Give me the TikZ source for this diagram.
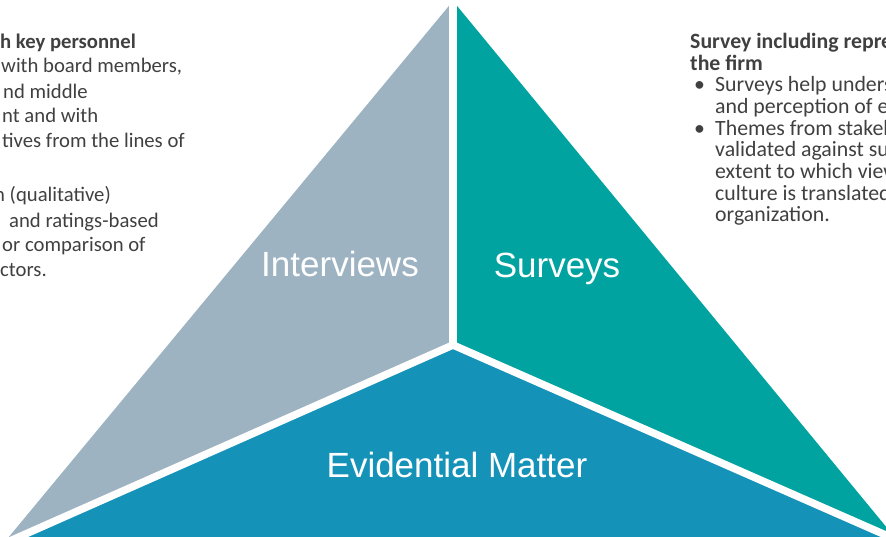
\documentclass[tikz,border=0pt]{standalone}
\usepackage{fontspec}
\setmainfont{Carlito}
\newfontfamily\labelfont{Liberation Sans}

\definecolor{intgray}{HTML}{9DB3C2}
\definecolor{survteal}{HTML}{00A3A0}
\definecolor{evidblue}{HTML}{1592B8}
\definecolor{bodytext}{HTML}{404040}

\tikzset{
  piecelabel/.style={text=white, font=\labelfont\fontsize{35}{40}\selectfont, inner sep=0pt, anchor=base},
  % base of a multi-line node is its last line
  sidetext/.style={text=bodytext, align=left, inner sep=0pt, anchor=base west}
}

\begin{document}
\begin{tikzpicture}[x=1pt,y=-1pt]
  \useasboundingbox (0,0) rectangle (886,537);
  \clip (0,0) rectangle (886,537);

  % corners of the big triangle and the point where the parts meet
  \coordinate (top) at (453,1);
  \coordinate (bl) at (3,544);
  \coordinate (br) at (897,540);
  \coordinate (mid) at (453,345);

  \fill[intgray] (top) -- (mid) -- (bl) -- cycle;
  \fill[survteal] (top) -- (br) -- (mid) -- cycle;
  \fill[evidblue] (bl) -- (mid) -- (br) -- cycle;

  % white gaps between the parts
  \foreach \c in {top,bl,br}{
    \draw[white, line width=7.5pt, line cap=round] (mid) -- (\c);
  }

  \node[piecelabel] (interviews) at (340,277) {Interviews};
  \node[piecelabel] (surveys) at (557,278) {Surveys};
  \node[piecelabel] (evidence) at (457,477) {Evidential Matter};

  %\draw[red] (0,0) grid[step=50] (886,537);

  \node[sidetext, font=\fontsize{20.7}{25}\selectfont] (interviewnotes) at (0,277)
    {\textbf{h key personnel}\\
     \hspace*{1pt}with board members,\\
     \hspace*{3pt}nd middle\\
     \hspace*{2pt}nt and with\\
     \hspace*{2pt}tives from the lines of\\[29pt]
     \hspace*{-6pt}n (qualitative)\\
     \hspace*{9pt}and ratings-based\\
     \hspace*{2pt}or comparison of\\
     ctors.};

  \node[sidetext, font=\fontsize{21.8}{21.7}\selectfont] (surveynotes) at (690,222)
    {\textbf{Survey including repre}\\
     \textbf{the firm}\\
     \hspace*{4pt}\makebox[21pt][l]{\textbullet}Surveys help unders\\
     \hspace*{25pt}and perception of e\\
     \hspace*{4pt}\makebox[21pt][l]{\textbullet}Themes from stakeh\\
     \hspace*{25pt}validated against su\\
     \hspace*{25pt}extent to which view\\
     \hspace*{25pt}culture is translated\\
     \hspace*{25pt}organization.};
\end{tikzpicture}
\end{document}
